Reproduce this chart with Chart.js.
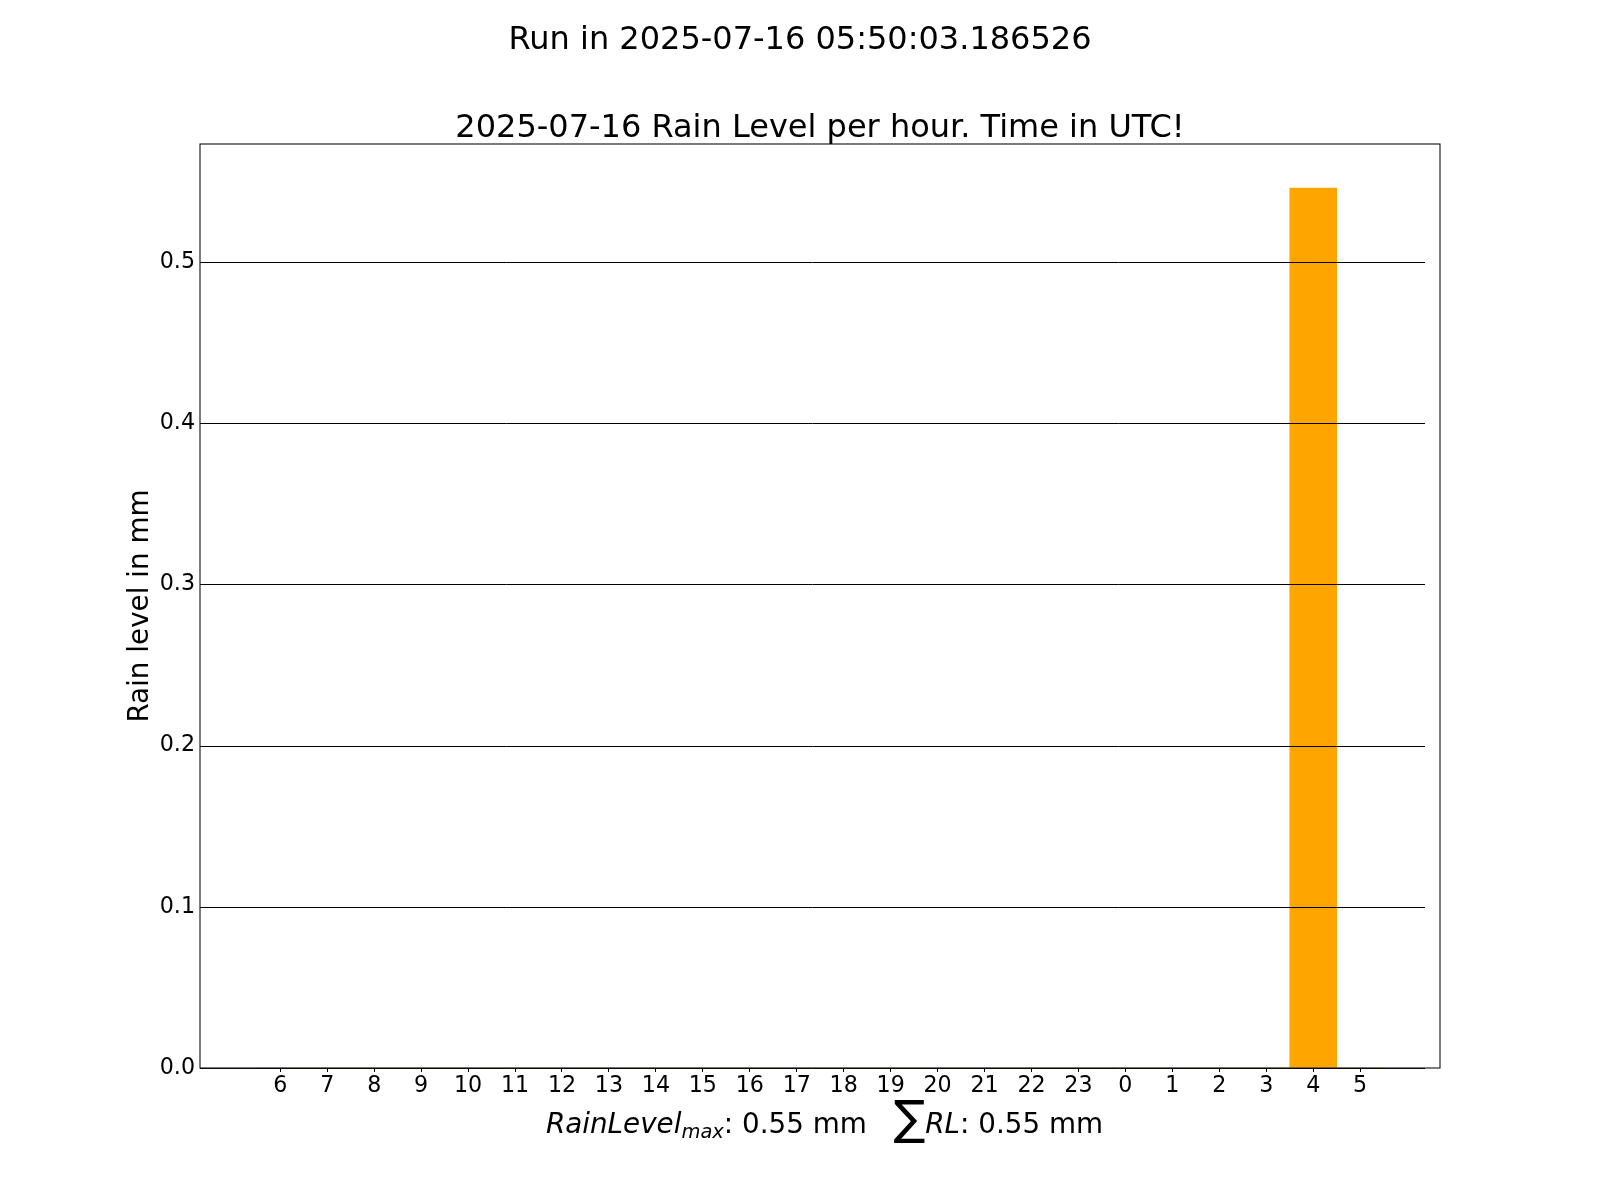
<!DOCTYPE html>
<html>
<head>
<meta charset="utf-8">
<script src="https://cdn.jsdelivr.net/npm/chart.js@4.4.1/dist/chart.umd.min.js"></script>
<style>
html,body{margin:0;padding:0;background:#ffffff;}
#wrap{width:1600px;height:1200px;}
</style>
</head>
<body>
<div id="wrap"><canvas id="c" width="1600" height="1200"></canvas></div>
<script>
const hours = ['6','7','8','9','10','11','12','13','14','15','16','17','18','19','20','21','22','23','0','1','2','3','4','5'];
const rainLevel = [0,0,0,0,0,0,0,0,0,0,0,0,0,0,0,0,0,0,0,0,0,0,0.546,0];
const yTicks = [0.0,0.1,0.2,0.3,0.4,0.5];
const superTitle = 'Run in 2025-07-16 05:50:03.186526';
const chartTitle = '2025-07-16 Rain Level per hour. Time in UTC!';
const yLabel = 'Rain level in mm';
const maxLabel = '0.55 mm';
const sumLabel = '0.55 mm';

const FONT = '"DejaVu Sans", "Liberation Sans", sans-serif';

const textPlugin = {
  id: 'mplText',
  afterDatasetsDraw(chart) {
    const ctx = chart.ctx;
    const a = chart.chartArea;
    const ys = chart.scales.y;
    ctx.save();
    // horizontal lines at tick values
    ctx.strokeStyle = '#000000';
    ctx.lineWidth = 1;
    yTicks.forEach(v => {
      const y = Math.round(ys.getPixelForValue(v)) + 0.5;
      ctx.beginPath();
      ctx.moveTo(a.left, y);
      ctx.lineTo(a.right - 15, y);
      ctx.stroke();
    });
    // spines
    ctx.strokeStyle = '#111111';
    ctx.lineWidth = 1.1;
    ctx.strokeRect(a.left, a.top, a.right - a.left, a.bottom - a.top);
    ctx.restore();
  },
  afterDraw(chart) {
    const ctx = chart.ctx;
    const a = chart.chartArea;
    const cx = (a.left + a.right) / 2;
    ctx.save();
    ctx.fillStyle = '#000000';
    ctx.textBaseline = 'alphabetic';
    // super title
    ctx.font = '32px ' + FONT;
    ctx.textAlign = 'center';
    ctx.fillText(superTitle, chart.width / 2, 48.5);
    // axes title
    ctx.fillText(chartTitle, cx, 136.5);
    // y label
    ctx.save();
    ctx.font = '27.8px ' + FONT;
    ctx.translate(147.5, (a.top + a.bottom) / 2);
    ctx.rotate(-Math.PI / 2);
    ctx.textAlign = 'center';
    ctx.fillText(yLabel, 0, 0);
    ctx.restore();
    // x label (mathtext-like)
    const fs = 27.8;
    const it = 'italic ' + fs + 'px ' + FONT;
    const rg = fs + 'px ' + FONT;
    const sub = 'italic ' + (fs * 0.7) + 'px ' + FONT;
    const segs = [
      {t: 'RainLevel', f: it, dy: 0},
      {t: 'max', f: sub, dy: 5.5},
      {t: ': ' + maxLabel + '   ', f: rg, dy: 0},
      {t: '\u2211', f: (fs * 1.7) + 'px ' + FONT, dy: 1},
      {t: 'RL', f: it, dy: 0},
      {t: ': ' + sumLabel, f: rg, dy: 0}
    ];
    let total = 0;
    segs.forEach(s => { ctx.font = s.f; s.w = ctx.measureText(s.t).width; total += s.w; });
    let x = cx - total / 2 + 4.5;
    ctx.textAlign = 'left';
    segs.forEach(s => { ctx.font = s.f; ctx.fillText(s.t, x, 1132.5 + s.dy); x += s.w; });
    ctx.restore();
  }
};

new Chart(document.getElementById('c'), {
  type: 'bar',
  data: {
    datasets: [{
      data: rainLevel.map((v, i) => ({x: i, y: v})),
      backgroundColor: '#FFA500',
      borderWidth: 0,
      barPercentage: 1.0,
      categoryPercentage: 1.0
    }]
  },
  options: {
    responsive: false,
    animation: false,
    devicePixelRatio: 1,
    layout: {padding: {left: 0, top: 144, right: 160, bottom: 0}},
    plugins: {legend: {display: false}, tooltip: {enabled: false}, title: {display: false}},
    scales: {
      x: {
        type: 'linear',
        min: -1.71,
        max: 24.7,
        offset: false,
        afterBuildTicks: (s) => { s.ticks = hours.map((h, i) => ({value: i})); },
        afterFit: (s) => { s.height = 132; },
        ticks: {
          autoSkip: false, maxRotation: 0, minRotation: 0, padding: 1,
          color: '#000000', font: {family: FONT, size: 22.2},
          callback: (v) => hours[v]
        },
        grid: {offset: false, drawOnChartArea: false, drawTicks: true, tickLength: 4, tickColor: '#000000', tickWidth: 1},
        border: {display: false}
      },
      y: {
        type: 'linear',
        min: 0,
        max: 0.5733,
        afterBuildTicks: (s) => { s.ticks = yTicks.map(v => ({value: v})); },
        afterFit: (s) => { s.width = 200; },
        ticks: {
          padding: 5, color: '#000000', font: {family: FONT, size: 22.2},
          callback: (v) => Number(v).toFixed(1)
        },
        grid: {drawOnChartArea: false, drawTicks: false},
        border: {display: false}
      }
    }
  },
  plugins: [textPlugin]
});
</script>
</body>
</html>
